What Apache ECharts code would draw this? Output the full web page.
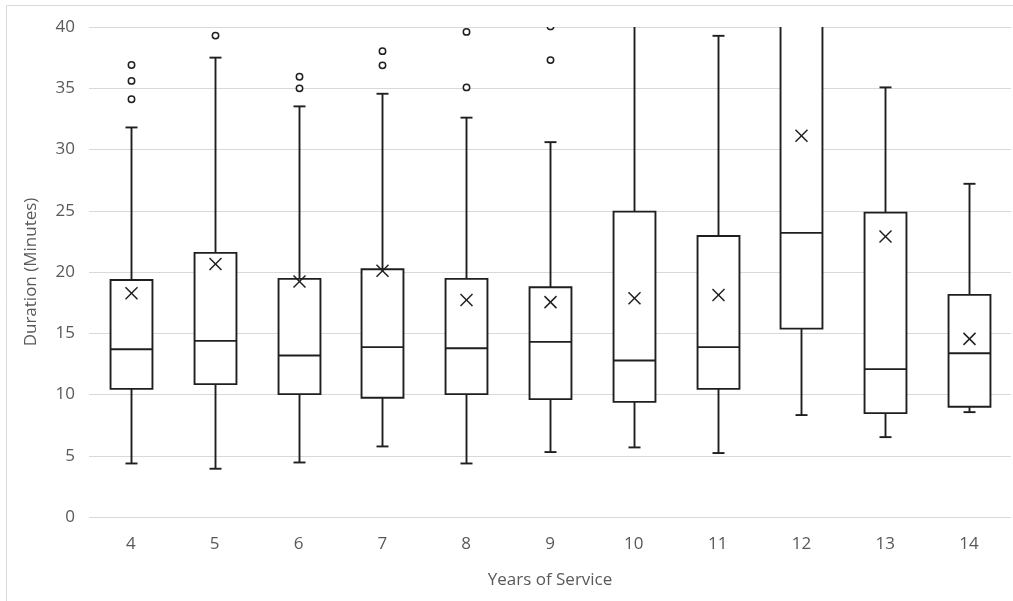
<!DOCTYPE html>
<html>
<head>
<meta charset="utf-8">
<style>
  html, body { margin: 0; padding: 0; background: #ffffff; }
  #chart { width: 1013px; height: 601px; }
</style>
<script src="https://cdn.jsdelivr.net/npm/echarts@6/dist/echarts.min.js"></script>
</head>
<body>
<div id="chart"></div>
<script>
// Years of service categories
const categories = ['4', '5', '6', '7', '8', '9', '10', '11', '12', '13', '14'];

// Five-number summaries per category (minutes)
const whiskerLow  = [4.37, 3.94, 4.45, 5.76, 4.37, 5.30, 5.68, 5.22, 8.32, 6.52, 8.56];
const quartile1   = [10.46, 10.85, 10.03, 9.73, 10.03, 9.62, 9.40, 10.46, 15.38, 8.48, 9.00];
const medians     = [13.70, 14.38, 13.18, 13.87, 13.78, 14.30, 12.77, 13.87, 23.19, 12.07, 13.37];
const quartile3   = [19.35, 21.56, 19.44, 20.23, 19.44, 18.76, 24.93, 22.94, 46.50, 24.85, 18.13];
const whiskerHigh = [31.80, 37.50, 33.52, 34.55, 32.60, 30.60, 44.50, 39.28, 60.00, 35.07, 27.20];

// Mean duration per category
const means = [18.27, 20.66, 19.22, 20.10, 17.72, 17.54, 17.86, 18.13, 31.13, 22.90, 14.54];

// Outliers: [category index, minutes]
const outliers = [
  [0, 36.90], [0, 35.60], [0, 34.10],
  [1, 39.30],
  [2, 35.94], [2, 34.99],
  [3, 38.03], [3, 36.87],
  [4, 39.60], [4, 35.07],
  [5, 40.05], [5, 37.30]
];

// Y axis ticks
const yMin = 0, yMax = 40, yStep = 5;

const INK = '#1f1f1f';
const boxData = categories.map((c, i) =>
  [i, whiskerLow[i], quartile1[i], medians[i], quartile3[i], whiskerHigh[i]]);
const meanData = categories.map((c, i) => [i, means[i]]);

function renderBox(params, api) {
  const x = api.value(0);
  const pLow = api.coord([x, api.value(1)]);
  const pQ1 = api.coord([x, api.value(2)]);
  const pMed = api.coord([x, api.value(3)]);
  const pQ3 = api.coord([x, api.value(4)]);
  const pHigh = api.coord([x, api.value(5)]);
  const bw = api.size([1, 0])[0] * 0.5;
  const cap = 6;
  const cx = Math.round(pMed[0]) + 0.5;
  const left = cx - bw / 2, right = cx + bw / 2;
  const style = { stroke: INK, lineWidth: 1.9, fill: null };
  return {
    type: 'group',
    children: [
      { type: 'line', shape: { x1: cx, y1: pQ3[1], x2: cx, y2: pHigh[1] }, style },
      { type: 'line', shape: { x1: cx, y1: pQ1[1], x2: cx, y2: pLow[1] }, style },
      { type: 'line', shape: { x1: cx - cap, y1: pHigh[1], x2: cx + cap, y2: pHigh[1] }, style },
      { type: 'line', shape: { x1: cx - cap, y1: pLow[1], x2: cx + cap, y2: pLow[1] }, style },
      { type: 'rect', shape: { x: left, y: pQ3[1], width: bw, height: pQ1[1] - pQ3[1] },
        style: { stroke: INK, lineWidth: 1.9, fill: '#ffffff' } },
      { type: 'line', shape: { x1: left, y1: pMed[1], x2: right, y2: pMed[1] }, style }
    ]
  };
}

function renderMean(params, api) {
  const p = api.coord([api.value(0), api.value(1)]);
  const s = 6;
  const cx = Math.round(p[0]) + 0.5;
  const style = { stroke: INK, lineWidth: 1.5 };
  return {
    type: 'group',
    children: [
      { type: 'line', shape: { x1: cx - s, y1: p[1] - s, x2: cx + s, y2: p[1] + s }, style },
      { type: 'line', shape: { x1: cx - s, y1: p[1] + s, x2: cx + s, y2: p[1] - s }, style }
    ]
  };
}

function renderOutlier(params, api) {
  const p = api.coord([api.value(0), api.value(1)]);
  return {
    type: 'circle',
    shape: { cx: Math.round(p[0]) + 0.5, cy: p[1], r: 3.2 },
    style: { stroke: INK, lineWidth: 1.5, fill: '#ffffff' }
  };
}

const chart = echarts.init(document.getElementById('chart'), null, { renderer: 'canvas' });
chart.setOption({
  backgroundColor: '#ffffff',
  animation: false,
  textStyle: { fontFamily: 'Open Sans' },
  graphic: [{
    type: 'rect',
    shape: { x: 6.5, y: 5.5, width: 1020, height: 620 },
    style: { stroke: '#d9d9d9', lineWidth: 1, fill: null },
    silent: true,
    z: -10
  }],
  grid: { left: 89, right: 2, top: 27, bottom: 84 },
  xAxis: {
    type: 'category',
    data: categories,
    boundaryGap: true,
    name: 'Years of Service',
    nameLocation: 'middle',
    nameGap: 55,
    nameTextStyle: { color: '#595959', fontSize: 17, fontFamily: 'Open Sans' },
    axisLine: { show: false },
    axisTick: { show: false },
    axisLabel: { color: '#595959', fontSize: 17, margin: 19, fontFamily: 'Open Sans' },
    splitLine: { show: false }
  },
  yAxis: {
    type: 'value',
    min: yMin,
    max: yMax,
    interval: yStep,
    name: 'Duration (Minutes)',
    nameLocation: 'middle',
    nameGap: 49,
    nameTextStyle: { color: '#595959', fontSize: 17, fontFamily: 'Open Sans' },
    axisLine: { show: false },
    axisTick: { show: false },
    axisLabel: { color: '#595959', fontSize: 17, margin: 14, fontFamily: 'Open Sans' },
    splitLine: { show: true, lineStyle: { color: '#d9d9d9', width: 1 } }
  },
  series: [
    { type: 'custom', name: 'box', renderItem: renderBox, data: boxData, clip: true,
      encode: { x: 0, y: [1, 2, 3, 4, 5] }, z: 2 },
    { type: 'custom', name: 'mean', renderItem: renderMean, data: meanData, clip: true,
      encode: { x: 0, y: 1 }, z: 3 },
    { type: 'custom', name: 'outliers', renderItem: renderOutlier, data: outliers, clip: true,
      encode: { x: 0, y: 1 }, z: 3 }
  ]
});
</script>
</body>
</html>
